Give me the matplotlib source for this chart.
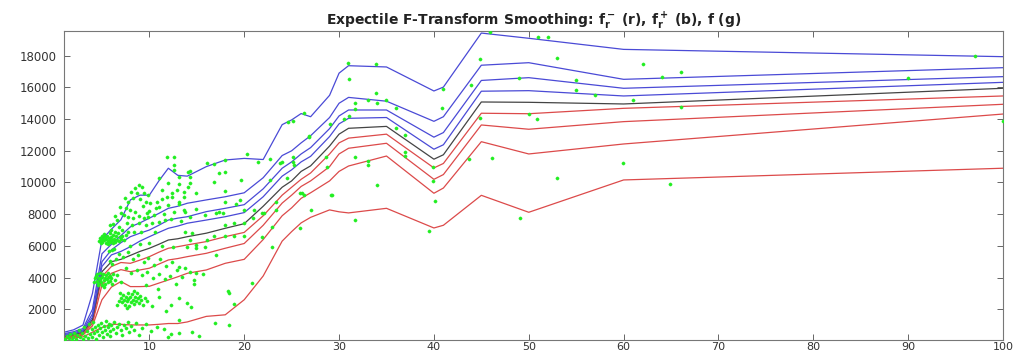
import matplotlib
matplotlib.use("Agg")
import matplotlib.pyplot as plt

# ---- smoothing grid and expectile curves -------------------------------
x_nodes = [1, 2, 3, 4, 5, 6, 7, 8, 9, 10, 11, 12, 13, 14, 16, 18, 20, 22,
           24, 25, 26, 27, 29, 30, 31, 35, 40, 41, 45, 50, 60, 100]

# upper expectiles f_r^+ (blue), highest first
upper_4 = [550, 700, 1000, 3000, 6400, 7050, 7650, 8900, 9200, 9200, 10100,
           10900, 10450, 10400, 11000, 11420, 11520, 11450, 13650, 13950,
           14350, 14150, 15500, 16900, 17370, 17290, 15775, 16020, 19430,
           19100, 18400, 17940]
upper_3 = [460, 580, 780, 2000, 5500, 6100, 6650, 7200, 7450, 7750, 8050,
           8370, 8500, 8690, 8900, 9100, 9350, 10300, 11700, 12000, 12500,
           12950, 14100, 15000, 15370, 15130, 13860, 14150, 17400, 17560,
           16510, 17245]
upper_2 = [400, 510, 690, 1700, 5000, 5750, 6200, 6580, 6800, 7000, 7300,
           7630, 7750, 7840, 8160, 8370, 8600, 9600, 10900, 11300, 11800,
           12200, 13400, 14200, 14575, 14575, 12860, 13150, 16440, 16615,
           15945, 16680]
upper_1 = [350, 450, 620, 1500, 4700, 5430, 5650, 5950, 6300, 6580, 6850,
           7110, 7250, 7430, 7630, 7840, 8100, 9100, 10400, 10800, 11300,
           11650, 12900, 13700, 14050, 14100, 12100, 12380, 15760, 15795,
           15460, 16320]
# central F-transform f (black)
middle = [300, 400, 560, 1350, 4370, 5000, 5150, 5400, 5650, 5850, 6100,
          6370, 6450, 6580, 6800, 7110, 7400, 8500, 9700, 10100, 10700,
          11050, 12300, 13050, 13420, 13540, 11470, 11750, 15080, 15060,
          14955, 15945]
# lower expectiles f_r^- (red), highest first
lower_1 = [260, 350, 500, 1200, 4060, 4700, 4950, 4900, 5100, 5320, 5600,
           5850, 5950, 6060, 6270, 6580, 6850, 7900, 9200, 9700, 10200,
           10600, 11800, 12500, 12800, 13050, 10920, 11200, 14370, 14340,
           14680, 15460]
lower_2 = [220, 300, 440, 1100, 3530, 4270, 4500, 4370, 4480, 4590, 4850,
           5110, 5200, 5320, 5530, 5850, 6150, 7300, 8700, 9200, 9750,
           10100, 11000, 11800, 12160, 12475, 10200, 10500, 13630, 13360,
           13840, 14935]
lower_3 = [180, 250, 370, 950, 2600, 3400, 3750, 3430, 3430, 3450, 3650,
           3850, 4050, 4270, 4480, 4900, 5150, 6400, 7900, 8400, 9000, 9350,
           10100, 10700, 11040, 11670, 9320, 9650, 12575, 11800, 12430,
           14320]
lower_4 = [130, 180, 260, 550, 850, 1050, 1050, 1010, 1010, 1010, 1050,
           1100, 1100, 1200, 1550, 1650, 2600, 4100, 6300, 6900, 7450, 7800,
           8270, 8150, 8080, 8370, 7130, 7300, 9190, 8120, 10160, 10900]

# ---- observations ------------------------------------------------------
obs_x = [
    # low band
    1.1, 1.3, 1.5, 1.6, 1.8, 2.0, 2.1, 2.3, 2.4, 2.6, 2.7, 2.9, 3.0, 3.1,
    3.2, 3.4, 3.5, 3.6, 3.7, 3.9, 4.0, 4.1, 4.2, 4.3, 4.4, 4.5, 4.6, 4.7,
    4.8, 4.9, 5.0, 5.1, 5.2, 5.3, 5.4, 5.5, 5.6, 5.7, 5.8, 5.9, 6.0, 6.2,
    6.3, 6.5, 6.6, 6.8, 7.0, 7.1, 7.3, 7.5, 7.7, 7.9, 8.1, 8.4, 8.6, 8.9,
    9.2, 9.6, 10.2, 10.8, 11.5, 12.3, 13.1, 15.2, 12.0, 13.1,
    # group near 4000
    4.3, 4.4, 4.5, 4.5, 4.6, 4.7, 4.8, 4.8, 4.9, 5.0, 5.0, 5.1, 5.2, 5.3,
    5.3, 5.4, 5.5, 5.6, 5.6, 5.7, 5.8, 5.9, 6.0, 6.1, 6.2, 4.6, 5.2, 4.2,
    6.4, 6.6,
    # group near 2600
    7.0, 7.1, 7.2, 7.3, 7.4, 7.5, 7.6, 7.7, 7.8, 7.9, 8.0, 8.1, 8.2, 8.3,
    8.4, 8.5, 8.6, 8.7, 8.8, 8.9, 9.0, 9.1, 9.3, 9.5, 6.8, 6.6, 7.6, 8.4,
    9.8, 6.9, 10.3, 11.0, 11.8, 12.3,
    # group near 6400
    4.7, 4.8, 4.9, 5.0, 5.0, 5.1, 5.2, 5.3, 5.4, 5.4, 5.5, 5.6, 5.7, 5.8,
    5.9, 6.0, 6.1, 6.2, 6.3, 6.4, 6.5, 6.6, 6.7, 6.8, 6.9, 7.0, 7.1, 5.2,
    5.9, 6.4, 4.9, 5.6, 6.2, 7.3, 7.5, 5.7, 6.1,
    # upper cloud
    6.9, 7.5, 8.0, 8.5, 7.3, 7.8, 8.3, 8.9, 9.4, 9.9, 10.5, 7.6, 8.2, 8.9,
    9.6, 10.3, 11.0, 11.7, 6.6, 6.8, 7.1, 8.9, 9.2, 8.5, 8.7, 9.4, 9.9,
    8.3, 9.0, 9.6, 10.1, 10.8, 11.3, 11.9, 12.4, 12.9, 13.1, 13.6, 12.0,
    11.0, 12.6, 13.8, 11.9, 12.6, 12.6, 12.6, 11.0, 12.0, 13.1, 14.1,
    14.1, 11.3, 12.4, 6.2, 6.0, 5.8, 6.4, 7.0, 7.8, 8.1, 7.4, 10.0, 10.7,
    9.3, 9.7, 11.5, 12.3, 13.3, 10.6, 9.1, 8.4, 7.7,
    # middle band
    6.3, 6.8, 7.2, 7.8, 8.3, 8.8, 9.4, 9.9, 10.5, 11.1, 11.8, 12.4, 12.9,
    13.1, 13.8, 14.3, 14.9, 15.7, 13.4, 14.7, 14.7, 7.5, 8.1, 8.7, 9.2,
    9.8, 10.4, 11.0, 11.6, 12.2, 7.0, 9.6, 10.9, 12.8, 6.5, 8.0, 9.0,
    10.0, 11.3, 12.5, 5.8, 6.1,
    # 13 to 30
    20.3, 16.1, 16.8, 18.0, 21.5, 22.7, 14.3, 17.3, 18.0, 13.1, 14.3,
    14.3, 16.8, 19.7, 13.7, 14.9, 18.0, 23.8, 25.1, 25.2, 26.8, 24.5,
    25.9, 13.1, 13.7, 14.9, 18.0, 19.1, 19.6, 20.0, 21.0, 22.1, 22.7,
    23.3, 23.3, 26.3, 27.0, 14.3, 15.9, 17.0, 17.3, 17.8, 18.0, 18.9,
    20.0, 13.8, 14.5, 14.3, 14.9, 16.1, 16.8, 18.0, 18.9, 20.0, 21.9,
    22.9, 22.9, 14.0, 14.9, 15.9, 17.0, 13.1, 14.0, 14.4, 18.3, 20.8,
    18.9, 16.9, 14.5, 18.4, 24.0, 25.1, 20.9, 21.9, 26.1, 25.9, 29.2,
    24.6, 25.1, 26.3, 28.6, 18.4,
    # beyond 28
    30.9, 33.9, 31.0, 33.9, 31.7, 33.0, 34.0, 35.0, 31.7, 36.0, 31.0,
    30.5, 29.0, 36.0, 37.0, 26.8, 37.0, 37.0, 31.7, 33.0, 33.0, 28.75,
    39.9, 39.9, 40.1, 34.0, 29.3, 31.7, 39.5, 40.9, 43.9, 44.9, 41.0,
    43.7, 46.1, 44.9, 45.9, 49.0, 50.0, 50.9, 51.0, 52.0, 53.0, 62.0,
    64.0, 66.0, 55.0, 55.0, 57.0, 61.0, 66.0, 90.0, 97.0, 100.0, 59.9,
    53.0, 64.9, 49.1,
]
obs_y = [
    120, 300, 180, 450, 90, 260, 520, 150, 380, 700, 220, 480, 110, 900,
    330, 600, 180, 1050, 420, 760, 250, 1200, 520, 880, 150, 640, 1000,
    360, 820, 1150, 540, 250, 930, 700, 1250, 420, 860, 1050, 600, 300,
    980, 760, 1180, 520, 900, 1100, 700, 380, 1000, 820, 1200, 560, 950,
    700, 1150, 400, 800, 1050, 600, 900, 750, 420, 520, 300, 250, 1325,
    3950, 4100, 3800, 4250, 3650, 4000, 3900, 4300, 3700, 4050, 3550,
    4200, 3850, 4000, 3600, 4150, 3900, 3700, 4300, 4050, 3800, 4100,
    3950, 3600, 4250, 3500, 3400, 3700, 3850, 4150,
    2700, 2450, 2900, 2600, 2300, 2800, 2500, 3000, 2650, 2200, 2750,
    2450, 2950, 2600, 2350, 2800, 2550, 3050, 2700, 2400, 2850, 2600,
    2300, 2700, 2550, 2300, 2100, 3150, 2500, 3000, 2200, 2800, 1900,
    2300,
    6300, 6500, 6400, 6250, 6600, 6450, 6350, 6550, 6200, 6450, 6650,
    6300, 6500, 6400, 6250, 6550, 6350, 6700, 6450, 6250, 6600, 6400,
    6800, 6300, 6550, 6450, 6650, 6750, 6800, 6900, 6150, 6100, 6150,
    6350, 6700, 5650, 5750,
    8480, 8370, 8270, 8160, 7950, 7840, 7740, 7890, 7740, 7840, 7950,
    7430, 7320, 7430, 7320, 7430, 7530, 7630, 7630, 7210, 7000, 9840,
    9740, 9640, 9320, 9320, 9210, 9000, 8940, 8790, 8690, 8790, 8940,
    9110, 9320, 9530, 8790, 9110, 8580, 8480, 8160, 8160, 11590, 11590,
    11100, 10790, 10270, 9950, 9890, 9740, 10680, 9530, 9110, 7400, 7000,
    7300, 7900, 8100, 8800, 9400, 9000, 8200, 8400, 8500, 8100, 8000,
    7700, 7600, 6900, 6900, 6900, 6900,
    5800, 5500, 5300, 5600, 5200, 5450, 5000, 5250, 4800, 5150, 4700,
    5000, 4500, 4690, 4590, 4370, 4270, 4230, 4060, 3850, 3600, 4600,
    4300, 4450, 4150, 4350, 4000, 4250, 3900, 4100, 3700, 3500, 3300,
    3600, 5200, 6000, 6100, 6200, 6000, 5900, 5050, 4850,
    11800, 11250, 11150, 11420, 11310, 11470, 10750, 10580, 10680, 10370,
    10370, 9990, 10010, 10160, 9420, 9360, 9480, 11250, 11310, 11100,
    12890, 10270, 9320, 8640, 8270, 8310, 8790, 8640, 8900, 8270, 8270,
    8060, 10160, 8790, 8270, 9210, 8270, 7800, 7950, 8060, 8160, 8060,
    7320, 7430, 7460, 6900, 6800, 6370, 6060, 6370, 6620, 6620, 6620,
    6620, 6580, 7210, 5950, 5950, 5850, 5950, 5430, 2690, 2420, 2160,
    3150, 3640, 2320, 1160, 590, 1010, 11310, 11630, 7740, 8100, 9320,
    7110, 9210, 13840, 13880, 14410, 11590, 3010,
    17560, 17480, 16510, 15670, 15040, 15210, 15040, 15210, 14640, 14720,
    14200, 14010, 13690, 13420, 13000, 12940, 11900, 11670, 11630, 11360,
    11100, 10960, 11000, 10100, 8850, 9840, 9190, 7630, 6960, 14680,
    16150, 17780, 15880, 11480, 11530, 14090, 19500, 16610, 14320, 13990,
    19200, 19200, 17840, 17480, 16680, 17000, 16470, 15840, 15500, 15210,
    14750, 16610, 17980, 13880, 11210, 10270, 9910, 7780,
]

# ---- figure -------------------------------------------------------------
fig = plt.figure(figsize=(10.21, 3.54), dpi=100)
ax = fig.add_axes([64 / 1021, 1 - 340 / 354, (1003 - 64) / 1021, (340 - 31) / 354])

ax.plot(obs_x, obs_y, linestyle="none", marker="o", markersize=2.3,
        markerfacecolor="#22ee22", markeredgecolor="#22ee22",
        markeredgewidth=0.3, zorder=3)

blue = "#4a4ad6"
red = "#dc4a4a"
for curve in (lower_4, lower_3, lower_2, lower_1):
    ax.plot(x_nodes, curve, color=red, linewidth=0.9, zorder=2)
ax.plot(x_nodes, middle, color="#444444", linewidth=0.9, zorder=2)
for curve in (upper_1, upper_2, upper_3, upper_4):
    ax.plot(x_nodes, curve, color=blue, linewidth=0.9, zorder=2)

ax.set_xlim(1, 100)
ax.set_ylim(60, 19560)
ax.set_xticks([10, 20, 30, 40, 50, 60, 70, 80, 90, 100])
ax.set_yticks([2000, 4000, 6000, 8000, 10000, 12000, 14000, 16000, 18000])

ax.tick_params(direction="in", top=True, right=True, length=4, width=0.7,
               color="#666666", labelsize=8.5, labelcolor="#333333")
ax.tick_params(axis="y", pad=5)
ax.tick_params(axis="x", pad=1.5, labelsize=8)
for side in ax.spines.values():
    side.set_color("#777777")
    side.set_linewidth(0.8)

ax.set_title(r"Expectile F-Transform Smoothing: $\mathbf{f_r^-}$ (r), "
             r"$\mathbf{f_r^+}$ (b), f (g)",
             fontsize=10, fontweight="bold", color="#222222", pad=4)

fig.savefig("out.png", dpi=100)
